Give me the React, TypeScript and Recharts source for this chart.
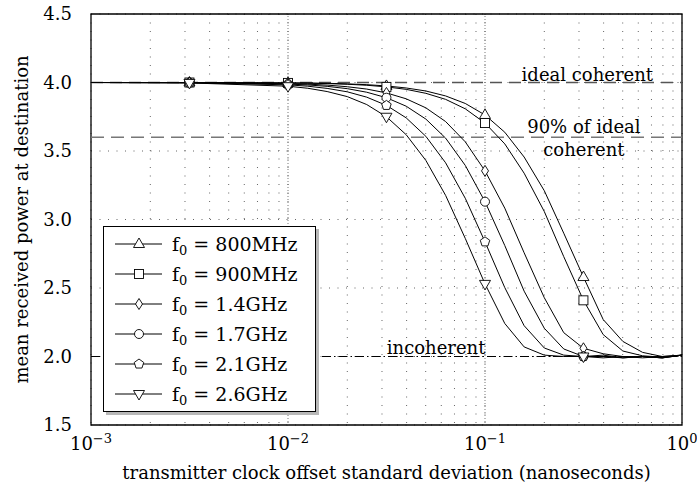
import React from "react";
import {
  LineChart,
  Line,
  XAxis,
  YAxis,
  CartesianGrid,
  ReferenceLine,
  ReferenceArea,
  Legend,
} from "recharts";

const FONT = "'DejaVu Serif', serif";

// x: transmitter clock offset std dev (ns)
const X = [
  0.001, 0.00316, 0.01, 0.0126, 0.0158, 0.02, 0.0251, 0.0316, 0.0398, 0.0501,
  0.0631, 0.0794, 0.1, 0.126, 0.158, 0.2, 0.251, 0.316, 0.398, 0.501, 0.631,
  0.794, 1.0,
];
const MARKED_X = [0.00316, 0.01, 0.0316, 0.1, 0.316];

const F800 = [4.0, 4.0, 3.997, 3.996, 3.994, 3.99, 3.984, 3.975, 3.96, 3.938, 3.902, 3.847, 3.763, 3.637, 3.456, 3.21, 2.9, 2.58, 2.27, 2.11, 2.03, 2.0, 2.01];
const F900 = [4.0, 4.0, 3.997, 3.995, 3.992, 3.987, 3.98, 3.968, 3.95, 3.921, 3.877, 3.808, 3.704, 3.552, 3.338, 3.058, 2.729, 2.41, 2.16, 2.04, 2.005, 1.995, 2.01];
const F1400 = [4.0, 3.999, 3.992, 3.988, 3.981, 3.969, 3.952, 3.924, 3.881, 3.815, 3.715, 3.567, 3.355, 3.083, 2.757, 2.429, 2.174, 2.06, 2.02, 2.0, 1.99, 2.0, 2.01];
const F1700 = [4.0, 3.999, 3.989, 3.982, 3.972, 3.955, 3.929, 3.889, 3.827, 3.733, 3.594, 3.395, 3.13, 2.81, 2.477, 2.206, 2.055, 2.0, 2.01, 1.99, 2.0, 1.99, 2.01];
const F2100 = [4.0, 3.998, 3.983, 3.973, 3.957, 3.932, 3.893, 3.833, 3.742, 3.607, 3.414, 3.155, 2.837, 2.503, 2.225, 2.062, 2.01, 2.0, 2.0, 1.99, 2.0, 1.99, 2.01];
const F2600 = [4.0, 3.997, 3.973, 3.958, 3.934, 3.897, 3.839, 3.75, 3.619, 3.431, 3.176, 2.862, 2.53, 2.241, 2.07, 2.01, 2.0, 2.0, 1.99, 2.0, 2.0, 1.99, 2.01];

const SERIES = [
  { key: "f800", label: "800MHz", values: F800, marker: "triUp" },
  { key: "f900", label: "900MHz", values: F900, marker: "square" },
  { key: "f1400", label: "1.4GHz", values: F1400, marker: "diamond" },
  { key: "f1700", label: "1.7GHz", values: F1700, marker: "circle" },
  { key: "f2100", label: "2.1GHz", values: F2100, marker: "pentagon" },
  { key: "f2600", label: "2.6GHz", values: F2600, marker: "triDown" },
];

const X_TICKS = [
  0.001, 0.002, 0.003, 0.004, 0.005, 0.006, 0.007, 0.008, 0.009,
  0.01, 0.02, 0.03, 0.04, 0.05, 0.06, 0.07, 0.08, 0.09,
  0.1, 0.2, 0.3, 0.4, 0.5, 0.6, 0.7, 0.8, 0.9, 1,
];
const X_MAJOR = [0.001, 0.01, 0.1, 1];
const X_MAJOR_EXP = ["−3", "−2", "−1", "0"];
const Y_TICKS = [1.5, 2.0, 2.5, 3.0, 3.5, 4.0, 4.5];

const data = X.map((x, i) => {
  const row: any = { x, mark: MARKED_X.includes(x) };
  SERIES.forEach((s) => (row[s.key] = s.values[i]));
  return row;
});

function Marker({ type, cx, cy }: { type: string; cx: number; cy: number }) {
  const common = { fill: "#fff", stroke: "#000", strokeWidth: 0.9 };
  switch (type) {
    case "triUp":
      return <polygon {...common} points={`${cx},${cy - 6} ${cx - 5.5},${cy + 3.5} ${cx + 5.5},${cy + 3.5}`} />;
    case "triDown":
      return <polygon {...common} points={`${cx},${cy + 6} ${cx - 5.5},${cy - 3.5} ${cx + 5.5},${cy - 3.5}`} />;
    case "square":
      return <rect {...common} x={cx - 4.5} y={cy - 4.5} width={9} height={9} />;
    case "diamond":
      return <polygon {...common} points={`${cx},${cy - 5.5} ${cx + 3.5},${cy} ${cx},${cy + 5.5} ${cx - 3.5},${cy}`} />;
    case "circle":
      return <circle {...common} cx={cx} cy={cy} r={4.5} />;
    case "pentagon": {
      const pts = [0, 1, 2, 3, 4]
        .map((k) => {
          const a = -Math.PI / 2 + (k * 2 * Math.PI) / 5;
          return `${cx + 5 * Math.cos(a)},${cy + 5 * Math.sin(a)}`;
        })
        .join(" ");
      return <polygon {...common} points={pts} />;
    }
    default:
      return null;
  }
}

const makeDot = (type: string) => (props: any) => {
  const { cx, cy, payload, index } = props;
  if (!payload || !payload.mark) return <g key={`d-${type}-${index}`} />;
  return (
    <g key={`d-${type}-${index}`}>
      <Marker type={type} cx={cx} cy={cy} />
    </g>
  );
};

const XTick = (props: any) => {
  const { x, y, payload } = props;
  const idx = X_MAJOR.indexOf(payload.value);
  if (idx < 0) return <g />;
  return (
    <text x={x} y={y + 25} textAnchor="middle" fontFamily={FONT} fontSize={18} fill="#000">
      10
      <tspan dy={-7} fontSize={13}>
        {X_MAJOR_EXP[idx]}
      </tspan>
    </text>
  );
};

const YTick = (props: any) => {
  const { x, y, payload } = props;
  return (
    <text x={x} y={y + 6} textAnchor="end" fontFamily={FONT} fontSize={18} fill="#000">
      {payload.value.toFixed(1)}
    </text>
  );
};

const LegendBox = () => (
  <div
    style={{
      width: 213,
      height: 186,
      boxSizing: "border-box",
      border: "1px solid #000",
      background: "#fff",
      boxShadow: "3px 3px 0 #b8b8b8",
      paddingTop: 2,
      fontFamily: FONT,
      fontSize: 19,
      color: "#000",
    }}
  >
    {SERIES.map((s) => (
      <div key={s.key} style={{ height: 30, display: "flex", alignItems: "center" }}>
        <svg width={68} height={30} style={{ display: "block" }}>
          <line x1={11} y1={15} x2={58} y2={15} stroke="#000" strokeWidth={1} />
          <Marker type={s.marker} cx={35} cy={15} />
        </svg>
        <span style={{ whiteSpace: "nowrap", lineHeight: "30px" }}>
          f<sub style={{ fontSize: 13, verticalAlign: "-4px", lineHeight: 0 }}>0</sub> = {s.label}
        </span>
      </div>
    ))}
  </div>
);

const IdealLabel = (props: any) => {
  const { viewBox } = props;
  return (
    <text x={viewBox.x + viewBox.width - 29} y={viewBox.y - 2} textAnchor="end" fontFamily={FONT} fontSize={18} fill="#000">
      ideal coherent
    </text>
  );
};

const NinetyLabel = (props: any) => {
  const { viewBox } = props;
  const cx = viewBox.x + viewBox.width * 0.834;
  return (
    <g>
      <text x={cx} y={viewBox.y - 4} textAnchor="middle" fontFamily={FONT} fontSize={18} fill="#000">
        90% of ideal
      </text>
      <text x={cx} y={viewBox.y + 19} textAnchor="middle" fontFamily={FONT} fontSize={18} fill="#000">
        coherent
      </text>
    </g>
  );
};

const IncoherentLabel = (props: any) => {
  const { viewBox } = props;
  const cx = viewBox.x + viewBox.width * 0.584;
  return (
    <text x={cx} y={viewBox.y - 3} textAnchor="middle" fontFamily={FONT} fontSize={18} fill="#000">
      incoherent
    </text>
  );
};

export default function App() {
  return (
    <div style={{ position: "absolute", left: 0, top: 0, width: 697, height: 489, background: "#fff" }}>
      <LineChart
        width={697}
        height={489}
        data={data}
        margin={{ top: 14, right: 15, bottom: 14, left: 31 }}
      >
        <CartesianGrid
          stroke="#555"
          strokeWidth={0.9}
          strokeDasharray="1 7.5"
        />
        <XAxis
          dataKey="x"
          type="number"
          scale="log"
          domain={[0.001, 1]}
          ticks={X_TICKS}
          interval={0}
          allowDataOverflow
          height={50}
          tickLine={false}
          axisLine={false}
          tickSize={0}
          tickMargin={0}
          tick={<XTick />}
          label={{
            value: "transmitter clock offset standard deviation (nanoseconds)",
            position: "insideBottom",
            offset: -4,
            style: { fontFamily: FONT, fontSize: 18, fill: "#000" },
          }}
        />
        <YAxis
          type="number"
          domain={[1.5, 4.5]}
          ticks={Y_TICKS}
          interval={0}
          width={60}
          tickLine={false}
          axisLine={false}
          tickSize={0}
          tickMargin={19}
          tick={<YTick />}
          label={{
            value: "mean received power at destination",
            angle: -90,
            position: "insideLeft",
            offset: 0,
            dx: -9,
            style: { fontFamily: FONT, fontSize: 18, fill: "#000", textAnchor: "middle" },
          }}
        />
        <ReferenceLine x={0.01} stroke="#555" strokeWidth={0.8} strokeDasharray="1 2" />
        <ReferenceLine x={0.1} stroke="#555" strokeWidth={0.8} strokeDasharray="1 2" />
        <ReferenceLine y={4.0} stroke="#555" strokeWidth={1.3} strokeDasharray="12 7" label={<IdealLabel />} />
        <ReferenceLine y={3.6} stroke="#777" strokeWidth={1.5} strokeDasharray="13 7" label={<NinetyLabel />} />
        <ReferenceLine y={2.0} stroke="#000" strokeWidth={1} strokeDasharray="9 3 1.5 3" label={<IncoherentLabel />} />
        <ReferenceArea x1={0.001} x2={1} y1={1.5} y2={4.5} fill="none" stroke="#000" strokeWidth={1.3} ifOverflow="visible" />
        {SERIES.map((s) => (
          <Line
            key={s.key}
            dataKey={s.key}
            type="linear"
            stroke="#000"
            strokeWidth={1}
            dot={makeDot(s.marker)}
            activeDot={false}
            isAnimationActive={false}
            legendType="none"
          />
        ))}
        <Legend
          layout="vertical"
          align="center"
          verticalAlign="middle"
          wrapperStyle={{ left: 103, top: 226, width: 216, height: 190 }}
          content={<LegendBox />}
        />
      </LineChart>
    </div>
  );
}
